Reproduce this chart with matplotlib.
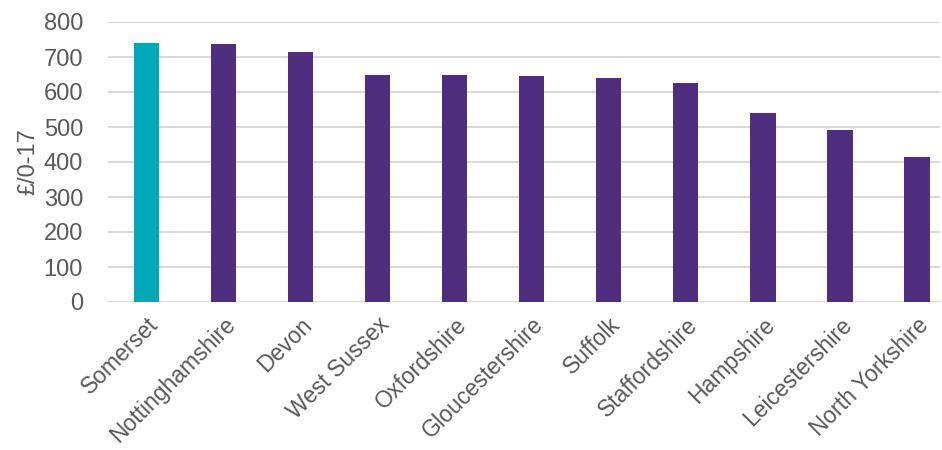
import matplotlib
matplotlib.use("Agg")
import matplotlib.pyplot as plt

categories = ["Somerset", "Nottinghamshire", "Devon", "West Sussex", "Oxfordshire",
              "Gloucestershire", "Suffolk", "Staffordshire", "Hampshire",
              "Leicestershire", "North Yorkshire"]
values = [740, 736, 713, 649, 648, 647, 640, 625, 541, 491, 413]
highlight = "Somerset"
yticks = [0, 100, 200, 300, 400, 500, 600, 700, 800]
ylabel = "£/0-17"

plt.rcParams['font.family'] = ['Liberation Sans', 'DejaVu Sans']
fig = plt.figure(figsize=(9.42, 4.5), dpi=100)
ax = fig.add_axes([108/942, 1 - 302/450, 832/942, 280/450])

colors = ["#00A9B5" if c == highlight else "#4F2D7F" for c in categories]
x = list(range(len(categories)))
ax.bar(x, values, width=0.33, color=colors, zorder=3)

ax.set_ylim(0, 800)
ax.set_xlim(-0.5, 10.3)
ax.set_yticks(yticks)
ax.set_yticklabels([str(v) for v in yticks], fontsize=17, color="#595959")
ax.set_xticks(x)
ax.set_xticklabels(categories, rotation=45, ha="right", rotation_mode="anchor",
                   fontsize=16.5, color="#595959")
ax.tick_params(axis="y", length=0, pad=18)
ax.tick_params(axis="x", length=0, pad=8)
ax.yaxis.grid(True, color="#D9D9D9", linewidth=1.5, zorder=0)
ax.set_axisbelow(True)
for s in ax.spines.values():
    s.set_visible(False)
ax.set_ylabel(ylabel, fontsize=17, color="#595959", labelpad=3)

fig.savefig("out.png", dpi=100)
